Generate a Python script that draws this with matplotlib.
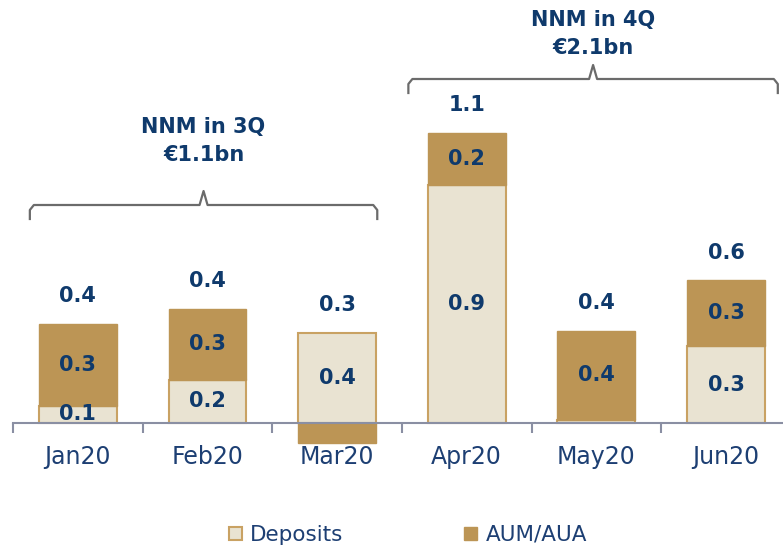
import matplotlib
matplotlib.use('Agg')
import matplotlib.pyplot as plt
from matplotlib.patches import Patch
from matplotlib.lines import Line2D

months = ['Jan20', 'Feb20', 'Mar20', 'Apr20', 'May20', 'Jun20']
deposits = [0.065, 0.163, 0.34, 0.90, 0.01, 0.29]
aum = [0.31, 0.27, -0.076, 0.20, 0.34, 0.25]
dep_labels = ['0.1', '0.2', '0.4', '0.9', '', '0.3']
aum_labels = ['0.3', '0.3', '', '0.2', '0.4', '0.3']
total_labels = ['0.4', '0.4', '0.3', '1.1', '0.4', '0.6']
groups = [('NNM in 3Q\n€1.1bn', 0, 2), ('NNM in 4Q\n€2.1bn', 3, 5)]

NAVY = '#0f3a6c'
GOLD = '#bc9555'
CREAM = '#e9e3d2'
EDGE = '#c9a263'
W, H = 783, 548

plt.rcParams['font.family'] = 'DejaVu Sans'
fig = plt.figure(figsize=(W / 100, H / 100), dpi=100)
ax = fig.add_axes([13 / W, (H - 470) / H, 770 / W, 470 / H])
ax.set_xlim(-0.5, 5.44)
ax.set_ylim(-0.178, 1.602)

x = list(range(len(months)))
bw = 0.6
aum_bottom = [d if a >= 0 else 0 for d, a in zip(deposits, aum)]
ax.bar(x, deposits, bw, color=CREAM, edgecolor=EDGE, linewidth=1.5, zorder=2)
ax.bar(x, aum, bw, bottom=aum_bottom, color=GOLD, edgecolor=GOLD, linewidth=1, zorder=2)

for i in x:
    if dep_labels[i]:
        ax.text(i, deposits[i] / 2, dep_labels[i], ha='center', va='center',
                fontsize=15, fontweight='bold', color=NAVY, zorder=3)
    if aum_labels[i]:
        ax.text(i, aum_bottom[i] + aum[i] / 2, aum_labels[i], ha='center', va='center',
                fontsize=15, fontweight='bold', color=NAVY, zorder=3)
    top = max(deposits[i], aum_bottom[i] + aum[i])
    ax.annotate(total_labels[i], (i, top), xytext=(0, 20), textcoords='offset points',
                ha='center', va='center', fontsize=15, fontweight='bold', color=NAVY)

# axis line with boundary ticks
for s in ['top', 'right', 'left']:
    ax.spines[s].set_visible(False)
ax.spines['bottom'].set_position(('data', 0))
ax.spines['bottom'].set_color('#8a8fa3')
ax.spines['bottom'].set_linewidth(1.5)
ax.set_yticks([])
ax.set_xticks([i - 0.5 for i in x])
ax.set_xticklabels([])
ax.tick_params(axis='x', which='major', length=7, width=1.5, color='#8a8fa3', direction='out')
ax.set_xticks(x, minor=True)
ax.set_xticklabels(months, minor=True)
ax.tick_params(axis='x', which='minor', length=0, pad=16, labelsize=17, labelcolor='#1d3f73')

# brackets with group totals
px = lambda a, b: (a / W, 1 - b / H)
for text, a, b in groups:
    if a == 0:
        xl = ax.transData.transform((a - 0.37, 0))[0]
        xr = ax.transData.transform((b + 0.31, 0))[0]
        yb, ty = 205, 141
    else:
        xl = ax.transData.transform((a - 0.45, 0))[0]
        xr = min(ax.transData.transform((b + 0.4, 0))[0], W - 4)
        yb, ty = 79, 34
    xc = (xl + xr) / 2
    pts = [(xl, yb + 14), (xl, yb + 5), (xl + 4, yb), (xc - 4, yb), (xc, yb - 14),
           (xc + 4, yb), (xr - 4, yb), (xr, yb + 5), (xr, yb + 14)]
    fx = [px(p[0], p[1])[0] for p in pts]
    fy = [px(p[0], p[1])[1] for p in pts]
    fig.add_artist(Line2D(fx, fy, color='#6b6b6b', lw=1.6, transform=fig.transFigure))
    fig.text(xc / W, 1 - ty / H, text, ha='center', va='center', fontsize=15,
             fontweight='bold', color=NAVY, linespacing=1.55)

handles = [Patch(facecolor=CREAM, edgecolor=EDGE, linewidth=1.5, label='Deposits'),
           Patch(facecolor=GOLD, edgecolor=GOLD, label='AUM/AUA')]
leg = fig.legend(handles=handles, loc='center', bbox_to_anchor=(408 / W, 1 - 535 / H), ncol=2,
                 frameon=False, fontsize=15.5, handlelength=0.6, handleheight=0.6,
                 handletextpad=0.4, columnspacing=5.6)
for t in leg.get_texts():
    t.set_color('#1d3f73')

fig.savefig('out.png', dpi=100)
